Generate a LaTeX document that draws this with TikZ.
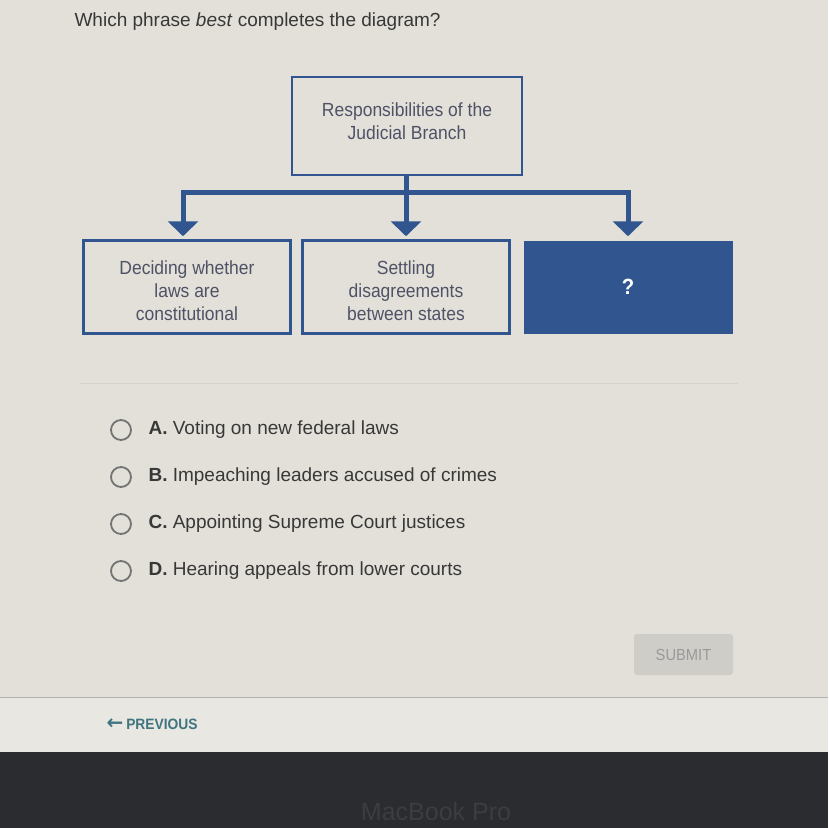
\documentclass[tikz,border=0pt]{standalone}
\usepackage{fontspec}
\setmainfont{Liberation Sans}
\newfontfamily\narrowfont[FakeStretch=0.92]{Liberation Sans}
\newfontfamily\symbolfont{DejaVu Sans}
\usetikzlibrary{arrows.meta}
\definecolor{pagebg}{HTML}{E2E0D8}
\definecolor{bandbg}{HTML}{E8E7E2}
\definecolor{darkbg}{HTML}{2A2C30}
\definecolor{judblue}{HTML}{30558F}
\definecolor{boxtext}{HTML}{4F5266}
\definecolor{maintext}{HTML}{383838}
\definecolor{prevteal}{HTML}{3F7480}
\definecolor{submitbg}{HTML}{CFCDC8}
\definecolor{sepline}{HTML}{D3D1CA}
\newcommand{\boxlines}[2]{\raisebox{#1}[\height][\depth]{\begin{tabular}{@{}c@{}}#2\end{tabular}}}
\tikzset{
    box/.style={draw=judblue, line width=2.5pt, minimum width=207pt, minimum height=93pt,
        align=center, text=boxtext, font=\narrowfont\fontsize{19}{23}\selectfont},
    link/.style={draw=judblue, line width=5pt},
    radio/.style={circle, draw=gray!90!black, line width=1.8pt, minimum size=20pt, inner sep=0pt},
    option/.style={anchor=west, text=maintext, font=\fontsize{19}{23}\selectfont}
}
\begin{document}
\begin{tikzpicture}[x=1pt,y=-1pt]
    \useasboundingbox (0,0) rectangle (828,828);
    \fill[pagebg] (0,0) rectangle (828,697);
    \fill[bandbg] (0,697) rectangle (828,752);
    \draw[gray!60, line width=1pt] (0,697) -- (828,697);
    \fill[darkbg] (0,752) rectangle (828,828);

    \node[anchor=base west, text=maintext, font=\fontsize{19}{23}\selectfont] (title) at (71,26)
        {Which phrase \textit{best} completes the diagram?};

    \node[box, minimum width=230pt, minimum height=98pt] (top) at (407,126)
        {\boxlines{3pt}{Responsibilities of the\\Judicial Branch}};
    \node[box] (left) at (187,287) {\boxlines{-6pt}{Deciding whether\\laws are\\constitutional}};
    \node[box] (mid) at (406,287) {\boxlines{-6pt}{Settling\\disagreements\\between states}};
    \node[box, draw=none, fill=judblue, text=white, minimum width=209pt,
        font=\narrowfont\bfseries\fontsize{22}{22}\selectfont] (right) at (628,287) {?};

    \coordinate (hub) at (406,192);
    \coordinate (barL) at (183,192);
    \coordinate (barR) at (628,192);
    \draw[link] (hub |- top.south) -- (hub);
    \draw[link, line cap=rect] (barL) -- (barR);
    \foreach \n/\c in {left/barL,mid/hub,right/barR}
        {\draw[link, -{Triangle[width=30pt,length=15pt]}, shorten >=3pt] (\c) -- (\c |- \n.north);}

    \draw[sepline, line width=1pt] (80,383) -- (738,383);

    \foreach \y/\l/\t in {430/A/Voting on new federal laws,
                          477/B/Impeaching leaders accused of crimes,
                          524/C/Appointing Supreme Court justices,
                          571/D/Hearing appeals from lower courts}
        {\node[radio] (r\l) at (121,\y) {};
         \node[option] (o\l) at (145,\y) {\textbf{\l.} \t};}

    \node[fill=submitbg, rounded corners=3pt, minimum width=99pt, minimum height=41pt,
        text=gray!80, font=\narrowfont\fontsize{16}{16}\selectfont] (submit) at (683.5,654.5) {SUBMIT};

    \node[anchor=west, text=prevteal, font=\narrowfont\bfseries\fontsize{15}{15}\selectfont] (prev) at (103,724)
        {{\symbolfont\fontsize{20}{20}\selectfont ←}\hspace{3pt}PREVIOUS};

    \node[text=gray!20!darkbg, font=\fontsize{25}{25}\selectfont] (mbp) at (436,812) {MacBook Pro};
\end{tikzpicture}
\end{document}
